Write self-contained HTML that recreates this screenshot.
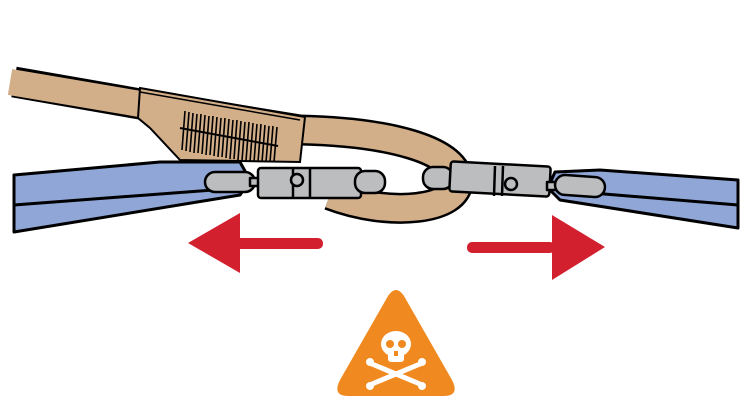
<!DOCTYPE html>
<html><head><style>body{margin:0;background:#fff}svg{display:block}</style></head><body>
<svg width="752" height="414" viewBox="0 0 752 414" xmlns="http://www.w3.org/2000/svg">
<!-- blue straps -->
<g stroke="#000" stroke-width="3" stroke-linejoin="round" fill="#8fa6d6">
<path d="M14,175 L160,162 L240,162 L250,180 L240,195 L14,232 Z"/>
<path d="M14,205 L240,188" fill="none"/>
<path d="M738,180 L600,170 L555,172 L548,188 L560,200 L738,228 Z"/>
<path d="M738,205 L580,192" fill="none"/>
</g>
<!-- tan strap -->
<path d="M14,82 L140,104 L300,130 C390,132 455,150 458,180 C460,210 390,218 330,195" fill="none" stroke="#000" stroke-width="31" stroke-linecap="butt"/>
<path d="M10,82 L140,104 L300,130 C390,132 455,150 458,180 C460,210 390,218 330,195" fill="none" stroke="#d2ae89" stroke-width="26"/>
<!-- sleeve -->
<path d="M140,88 L305,117 L300,162 L180,160 L150,128 L138,118 Z" fill="#d2ae89" stroke="#000" stroke-width="2"/>
<path d="M140,92 L300,120" stroke="#000" stroke-width="1.5"/>
<g stroke="#000" stroke-width="1.6">
<path d="M185,111 L182,150 M189,112 L186,151 M193,113 L190,152 M197,114 L194,153 M201,114 L198,153 M205,115 L202,154 M209,116 L206,155 M213,116 L210,155 M217,117 L214,156 M221,118 L218,157 M225,118 L222,157 M229,119 L226,158 M233,120 L230,159 M237,120 L234,159 M241,121 L238,160 M245,122 L242,161 M249,122 L246,161 M253,123 L250,162 M257,124 L254,162 M261,124 L258,162 M265,125 L262,162 M269,126 L266,162 M273,126 L270,162 M277,127 L274,162"/>
<path d="M180,128 L278,146" stroke-width="2"/>
</g>
<!-- carabiners -->
<g stroke="#000" stroke-width="2.5" fill="#bcbdbf" stroke-linejoin="round">
<rect x="205" y="172" width="50" height="20" rx="10"/>
<rect x="250" y="178" width="12" height="8"/>
<rect x="258" y="168" width="103" height="30" rx="3"/>
<rect x="355" y="171" width="30" height="22" rx="10"/>
<line x1="293" y1="168" x2="293" y2="198"/><line x1="310" y1="168" x2="310" y2="198"/>
<circle cx="297" cy="180" r="6"/>
<rect x="423" y="167" width="30" height="22" rx="10"/>
<rect x="450" y="164" width="100" height="30" rx="3" transform="rotate(3 500 179)"/>
<line x1="495" y1="166" x2="494" y2="196"/><line x1="503" y1="166" x2="502" y2="196"/>
<circle cx="511" cy="184" r="6"/>
<rect x="547" y="182" width="12" height="8"/>
<rect x="555" y="176" width="50" height="20" rx="10" transform="rotate(4 580 186)"/>
</g>
<!-- arrows -->
<g fill="#d2202f">
<rect x="235" y="238" width="88" height="11" rx="5"/>
<path d="M188,243 L240,213 L240,273 Z"/>
<rect x="467" y="242" width="88" height="11" rx="5"/>
<path d="M605,247 L552,215 L552,280 Z"/>
</g>
<!-- warning -->
<path d="M388,296 Q396,284 404,296 L452,380 Q460,396 444,396 L348,396 Q332,396 340,380 Z" fill="#f0891f"/>
<g fill="#fff">
<ellipse cx="396" cy="344" rx="15" ry="13"/>
<rect x="388" y="350" width="16" height="12" rx="3"/>
<path d="M372,364 L420,384 M420,364 L372,384" stroke="#fff" stroke-width="5" stroke-linecap="round"/>
<circle cx="370" cy="362" r="4"/><circle cx="370" cy="386" r="4"/><circle cx="422" cy="362" r="4"/><circle cx="422" cy="386" r="4"/>
</g>
<g fill="#f0891f"><circle cx="390" cy="344" r="4"/><circle cx="402" cy="344" r="4"/><rect x="394" y="351" width="4" height="5"/></g>
</svg>
</body></html>
